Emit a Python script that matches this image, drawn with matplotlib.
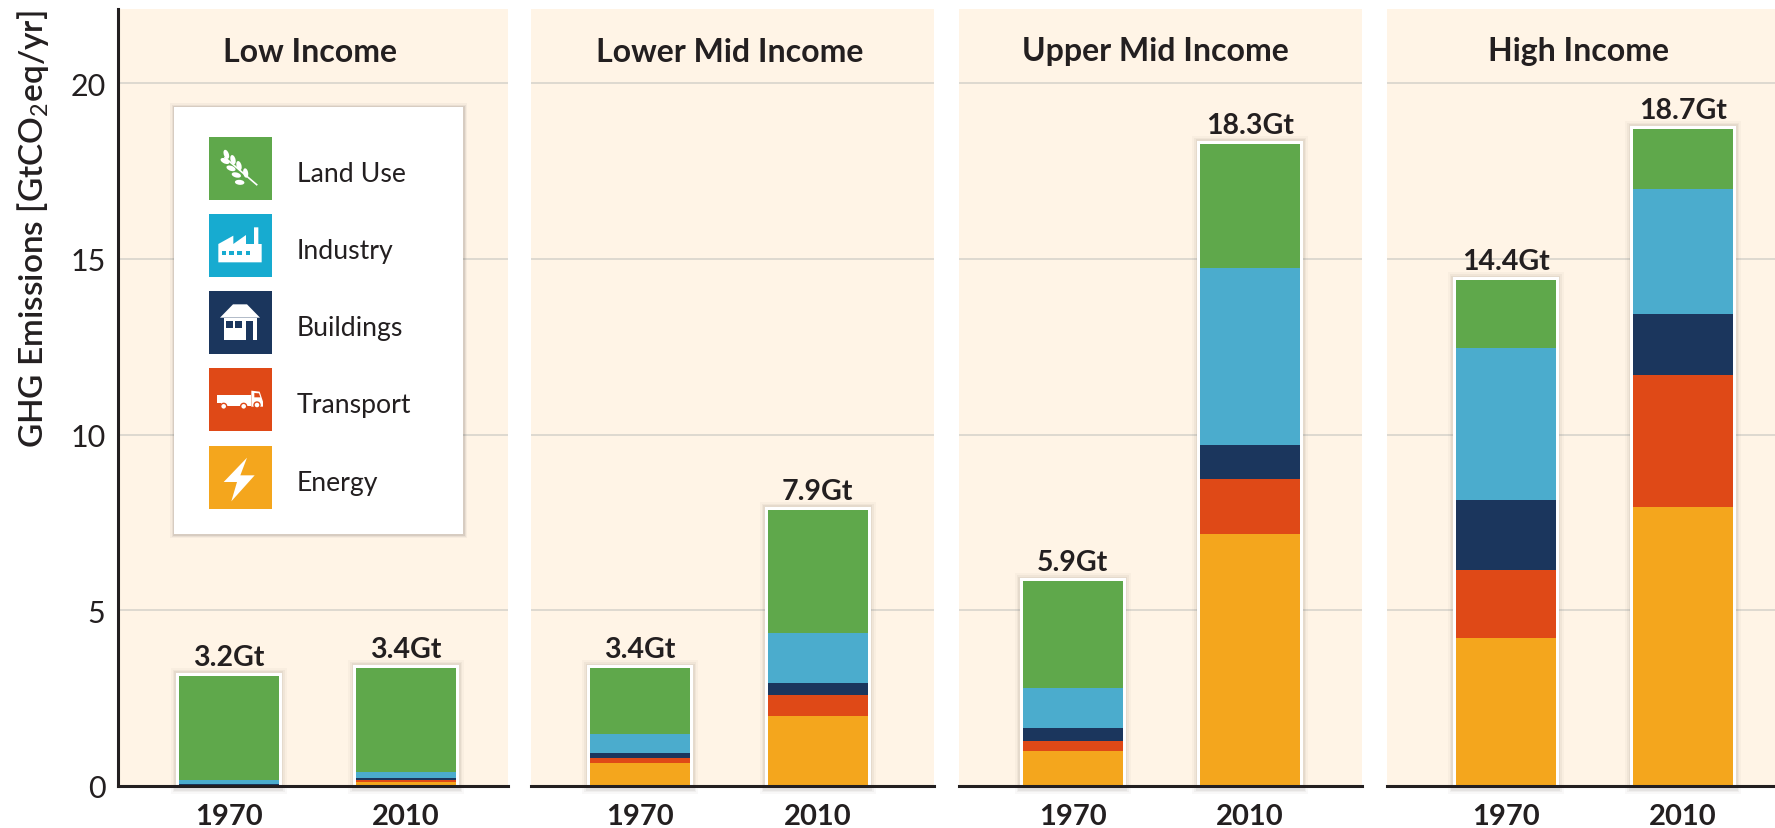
import matplotlib
matplotlib.use("Agg")
import matplotlib.pyplot as plt
from matplotlib.patches import Rectangle, Polygon, Ellipse, Circle

plt.rcParams['font.family'] = ['Lato', 'DejaVu Sans']
plt.rcParams['mathtext.fontset'] = 'custom'
plt.rcParams['mathtext.rm'] = 'Lato'

W, H = 1775, 829
INK = '#231f20'

panels = ['Low Income', 'Lower Mid Income', 'Upper Mid Income', 'High Income']
years = ['1970', '2010']
sectors = ['Energy', 'Transport', 'Buildings', 'Industry', 'Land Use']
totals = [[3.2, 3.4], [3.4, 7.9], [5.9, 18.3], [14.4, 18.7]]

# segment heights per panel, 1970 then 2010
energy = [[0.02, 0.10], [0.65, 2.00], [1.00, 7.18], [4.22, 7.93]]
transport = [[0.02, 0.07], [0.15, 0.58], [0.29, 1.55], [1.93, 3.77]]
buildings = [[0.03, 0.07], [0.15, 0.35], [0.35, 0.97], [2.00, 1.73]]
industry = [[0.10, 0.16], [0.53, 1.42], [1.16, 5.05], [4.32, 3.55]]
land_use = [[2.96, 2.96], [1.87, 3.51], [3.03, 3.52], [1.92, 1.72]]

yticks = [0, 5, 10, 15, 20]

bar_colors = ['#f4a61d', '#df4917', '#1b365d', '#4bacCd', '#5fa84b']
icon_colors = ['#f4a61d', '#df4917', '#1b365d', '#17abd0', '#5fa84b']

# layout in pixels: left, right, centre of first bar, centre of title
layout = [(118, 508, 228.5, 310), (531, 934, 640, 730), (959, 1362, 1072.5, 1155), (1387, 1775, 1505.5, 1578)]
STEP = 177.5
BAR_PX = 100
TOP, BOTTOM = 10, 787
PX_PER_UNIT = 35.15

fig = plt.figure(figsize=(W / 100, H / 100), dpi=100, facecolor='white')

series = [energy, transport, buildings, industry, land_use]
for p, (left, right, c0, title_px) in enumerate(layout):
    ax = fig.add_axes([left / W, 1 - BOTTOM / H, (right - left) / W, (BOTTOM - TOP) / H])
    ax.set_facecolor('#fff4e6')
    ax.set_xlim((left - c0) / STEP, (right - c0) / STEP)
    ax.set_ylim(0, (BOTTOM - TOP) / PX_PER_UNIT)
    for s in ['top', 'right']:
        ax.spines[s].set_visible(False)
    ax.spines['bottom'].set_linewidth(2.2)
    ax.spines['bottom'].set_color(INK)
    ax.spines['bottom'].set_zorder(6)
    ax.spines['left'].set_linewidth(2.2)
    ax.spines['left'].set_color(INK)
    ax.spines['left'].set_visible(p == 0)

    ax.set_yticks(yticks)
    ax.tick_params(axis='y', length=0, pad=9, labelsize=22, labelcolor=INK, labelleft=p == 0)
    ax.tick_params(axis='x', length=0, pad=12, labelsize=21, labelcolor=INK)
    ax.set_xticks([0, 1])
    ax.set_xticklabels(years, fontweight='bold')
    for y in yticks[1:]:
        ax.axhline(y, color='#d4d1ca', lw=1.1, zorder=1)

    bw = BAR_PX / STEP
    for i in range(2):
        total = sum(s[p][i] for s in series)
        # soft shadow and white outline round the stack
        for grow, alpha in [(8, 0.04), (6, 0.06), (4.5, 0.08)]:
            ax.add_patch(Rectangle((i - bw / 2 - grow / STEP, -grow / PX_PER_UNIT),
                                   bw + 2 * grow / STEP, total + 2 * grow / PX_PER_UNIT,
                                   fc='#6b5f55', ec='none', alpha=alpha, zorder=2, clip_on=False))
        ax.add_patch(Rectangle((i - bw / 2 - 3 / STEP, 0), bw + 6 / STEP, total + 3 / PX_PER_UNIT,
                               fc='white', ec='none', zorder=3))
        bottom = 0
        for s, col in zip(series, bar_colors):
            ax.bar(i, s[p][i], bw, bottom=bottom, color=col, zorder=4)
            bottom += s[p][i]
        ax.text(i, total + 6 / PX_PER_UNIT, '%.1fGt' % totals[p][i], ha='center', va='bottom',
                fontsize=20.5, fontweight='bold', color=INK, zorder=5)

    ax.text((title_px - left) / (right - left), (BOTTOM - 52) / (BOTTOM - TOP), panels[p], transform=ax.transAxes,
            ha='center', va='center', fontsize=23, fontweight='bold', color=INK)

fig.text(33 / W, 1 - 229 / H, r'GHG Emissions [GtCO$_2$eq/yr]', rotation=90, ha='center', va='center',
         fontsize=24, fontweight='semibold', color=INK)

# legend, drawn in pixel coordinates on top of the first panel
lg = fig.add_axes([0, 0, 1, 1], facecolor='none')
lg.set_xlim(0, W)
lg.set_ylim(H, 0)
lg.axis('off')
for grow, alpha in [(4, 0.05), (2.5, 0.08), (1.5, 0.12)]:
    lg.add_patch(Rectangle((174 - grow, 108 - grow), 289 + 2 * grow, 427 + 2 * grow, fc='#55504a', ec='none', alpha=alpha))
lg.add_patch(Rectangle((174, 108), 289, 427, fc='white', ec='none'))


def land_icon(x0, y0, bg):
    f = lambda x, y: (x0 + x / 3, y0 + y / 3)
    lg.plot(*zip(f(48, 62), f(143, 143)), color='white', lw=1.2)
    leaves = [(52, 52, 70), (48, 72, 25), (72, 68, 75), (66, 94, 20), (90, 86, 75), (82, 114, 15), (110, 108, 80), (92, 136, 5)]
    for x, y, a in leaves:
        lg.add_patch(Ellipse(f(x, y), 9.5, 5, angle=a, fc='white', ec='none'))


def industry_icon(x0, y0, bg):
    f = lambda p: [(x0 + x / 3, y0 + y / 3) for x, y in p]
    lg.add_patch(Polygon(f([(28, 145), (28, 90), (73, 65), (73, 90), (111, 63), (111, 90), (135, 90), (135, 40),
                            (148, 40), (148, 90), (158, 90), (158, 145)]), fc='white', ec='none'))
    for x in [38, 61, 85, 111]:
        lg.add_patch(Rectangle((x0 + x / 3, y0 + 110 / 3), 13 / 3, 13 / 3, fc=bg, ec='none'))


def buildings_icon(x0, y0, bg):
    f = lambda p: [(x0 + x / 3, y0 + y / 3) for x, y in p]
    lg.add_patch(Polygon(f([(33, 80), (72, 40), (114, 40), (153, 80)]), fc='white', ec='none'))
    lg.add_patch(Polygon(f([(44, 80), (144, 80), (144, 147), (44, 147)]), fc='white', ec='none'))
    for p in [[(52, 91), (72, 91), (72, 111), (52, 111)], [(78, 91), (99, 91), (99, 111), (78, 111)],
              [(110, 91), (132, 91), (132, 147), (110, 147)]]:
        lg.add_patch(Polygon(f(p), fc=bg, ec='none'))


def transport_icon(x0, y0, bg):
    f = lambda p: [(x0 + x / 3, y0 + y / 3) for x, y in p]
    lg.add_patch(Polygon(f([(24, 81), (125, 81), (125, 104), (24, 104)]), fc='white', ec='none'))
    lg.add_patch(Polygon(f([(37, 104), (127, 104), (127, 113), (37, 113)]), fc='white', ec='none'))
    lg.add_patch(Polygon(f([(127, 68), (152, 71), (162, 101), (162, 116), (127, 116)]), fc='white', ec='none'))
    lg.add_patch(Polygon(f([(136, 75), (150, 76), (154, 88), (136, 88)]), fc=bg, ec='none'))
    for x, y in [(44, 115), (104, 115), (144, 111)]:
        lg.add_patch(Circle((x0 + x / 3, y0 + y / 3), 3, fc='white', ec=bg, lw=1))


def energy_icon(x0, y0, bg):
    p = [(114, 35), (44, 108), (84, 108), (67, 166), (137, 88), (94, 88)]
    lg.add_patch(Polygon([(x0 + x / 3, y0 + y / 3) for x, y in p], fc='white', ec='none'))


icon_fns = [energy_icon, transport_icon, buildings_icon, industry_icon, land_icon]
icon_tops = [447, 369, 292, 215, 138]
for name, col, fn, top in zip(sectors, icon_colors, icon_fns, icon_tops):
    lg.add_patch(Rectangle((209, top), 62.5, 62.5, fc=col, ec='none'))
    fn(209, top, col)
    lg.text(297, top + 36, name, ha='left', va='center', fontsize=19.2, color=INK)

fig.savefig('out.png', dpi=100)
